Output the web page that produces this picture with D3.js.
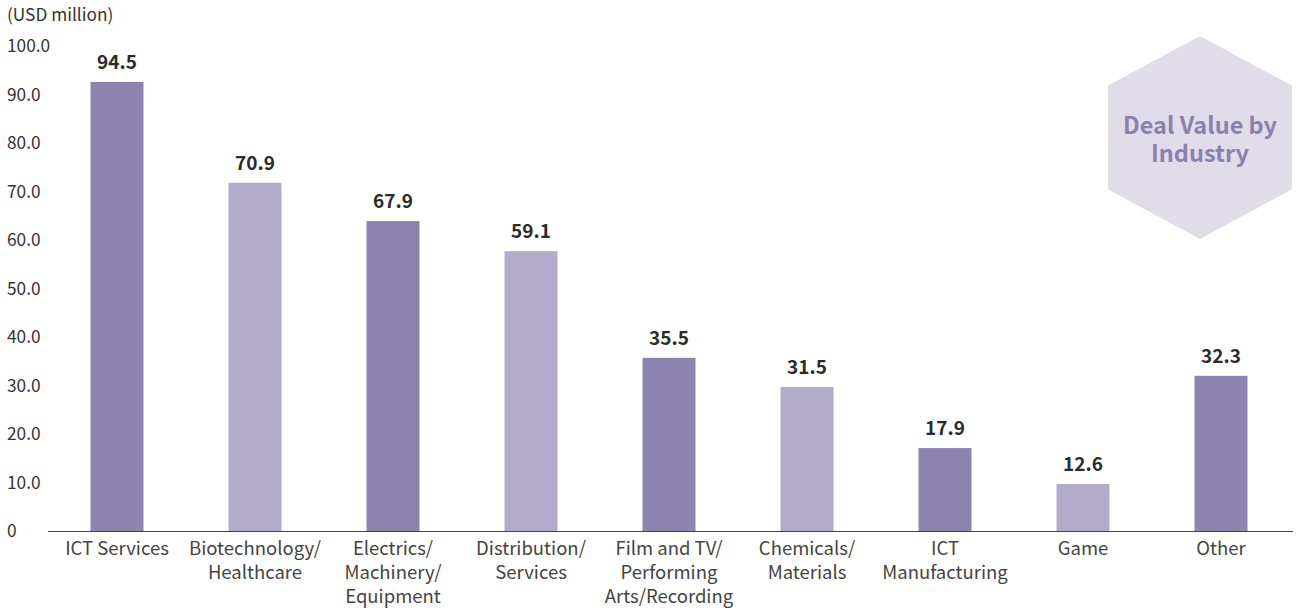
<!DOCTYPE html>
<html>
  <head>
	<meta charset="utf-8">
	<title>Deal Value by Industry</title>
	<script src="https://d3js.org/d3.v7.min.js"></script>
	<style>
		body { margin: 0; background: #fff; }
		svg text { font-family: "Noto Sans CJK KR", "Noto Sans", sans-serif; }
	</style>
  </head>
  <body>
	<svg id="chart" width="1297" height="612"></svg>
	<script type="text/javascript">
		// categories (line breaks as in the original)
		const industries = [
			["ICT Services"],
			["Biotechnology/", "Healthcare"],
			["Electrics/", "Machinery/", "Equipment"],
			["Distribution/", "Services"],
			["Film and TV/", "Performing", "Arts/Recording"],
			["Chemicals/", "Materials"],
			["ICT", "Manufacturing"],
			["Game"],
			["Other"]
		];
		// printed values
		const dealLabels = [94.5, 70.9, 67.9, 59.1, 35.5, 31.5, 17.9, 12.6, 32.3];
		// bar heights as drawn in the picture
		const barHeights = [92.6, 71.8, 63.9, 57.7, 35.7, 29.7, 17.1, 9.7, 32.0];
		const yTicks = [0, 10, 20, 30, 40, 50, 60, 70, 80, 90, 100];

		const dark = "#8c83ae", light = "#b2abcb";
		const svg = d3.select("#chart");

		var x = d3.scaleBand()
			.domain(d3.range(industries.length))
			.range([48, 1290])
			.paddingInner(0.616)
			.paddingOuter(0.308);

		var y = d3.scaleLinear()
			.domain([0, 100])
			.range([531, 46]);

		//Unit label
		svg.append("text")
			.attr("x", 7)
			.attr("y", 21)
			.attr("font-size", 17.3)
			.attr("fill", "#333")
			.text("(USD million)");

		//Y tick labels (no axis line)
		svg.append("g")
			.selectAll("text")
			.data(yTicks)
			.join("text")
			.attr("x", 7)
			.attr("y", d => y(d))
			.attr("dy", "0.36em")
			.attr("font-size", 17.3)
			.attr("fill", "#333")
			.text(d => d === 0 ? "0" : d.toFixed(1));

		//Bars
		svg.append("g")
			.selectAll("rect")
			.data(barHeights)
			.join("rect")
			.attr("x", (d, i) => x(i))
			.attr("y", d => y(d))
			.attr("width", x.bandwidth())
			.attr("height", d => y(0) - y(d))
			.attr("fill", (d, i) => i % 2 === 0 ? dark : light);

		//Value labels
		svg.append("g")
			.selectAll("text")
			.data(dealLabels)
			.join("text")
			.attr("x", (d, i) => x(i) + x.bandwidth() / 2)
			.attr("y", (d, i) => y(barHeights[i]) - 13)
			.attr("text-anchor", "middle")
			.attr("font-size", 19)
			.attr("font-weight", "bold")
			.attr("fill", "#2b2b2b")
			.text(d => d.toFixed(1));

		//Baseline
		svg.append("line")
			.attr("x1", 48).attr("x2", 1293)
			.attr("y1", y(0) + 0.5).attr("y2", y(0) + 0.5)
			.attr("stroke", "#444")
			.attr("stroke-width", 1.2);

		//Category labels
		var cat = svg.append("g")
			.selectAll("text")
			.data(industries)
			.join("text")
			.attr("x", (d, i) => x(i) + x.bandwidth() / 2)
			.attr("y", 555)
			.attr("text-anchor", "middle")
			.attr("font-size", 18.5)
			.attr("fill", "#444");
		cat.selectAll("tspan")
			.data(d => d)
			.join("tspan")
			.attr("x", function() { return this.parentNode.getAttribute("x"); })
			.attr("dy", (d, i) => i === 0 ? 0 : 24)
			.text(d => d);

		//Hexagon badge
		var cx = 1200, cy = 137.5, hw = 89, hh = 98, side = 50;
		var hex = [[cx, cy - hh], [cx + hw, cy - side], [cx + hw, cy + side],
			[cx, cy + hh], [cx - hw, cy + side], [cx - hw, cy - side]];
		svg.append("path")
			.attr("d", "M" + hex.join("L") + "Z")
			.attr("fill", "#e0dcea")
			.attr("stroke", "#e0dcea")
			.attr("stroke-width", 6)
			.attr("stroke-linejoin", "round");
		svg.append("text")
			.attr("x", cx)
			.attr("y", 134)
			.attr("text-anchor", "middle")
			.attr("font-size", 23.5)
			.attr("font-weight", "bold")
			.attr("fill", "#8b81ad")
			.selectAll("tspan")
			.data(["Deal Value by", "Industry"])
			.join("tspan")
			.attr("x", cx)
			.attr("dy", (d, i) => i === 0 ? 0 : 28)
			.text(d => d);
	</script>
  </body>
</html>
